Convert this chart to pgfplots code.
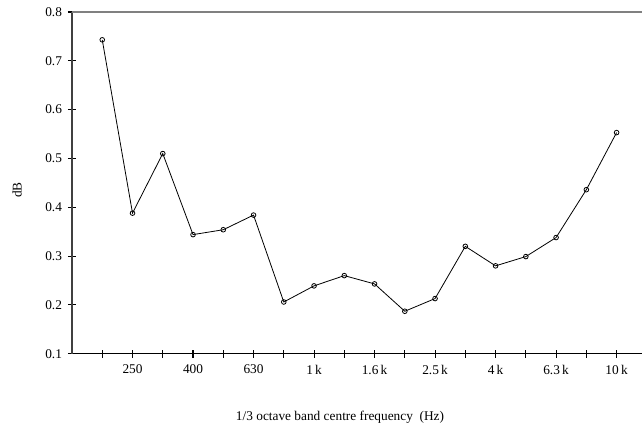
\documentclass[border=0pt]{standalone}
\usepackage{fontspec}
\setmainfont{Liberation Serif}
\usepackage{pgfplots}
\pgfplotsset{compat=1.18}

\begin{document}
\begin{tikzpicture}
\begin{axis}[
  at={(54pt,55.7pt)}, anchor=south west,
  scale only axis, width=427.5pt, height=256.3pt,
  xmin=-1, xmax=17.84, ymin=0.1, ymax=0.8,
  axis x line*=bottom, axis y line*=left,
  axis line style={line width=1pt},
  x axis line style={black, -},
  y axis line style={black!75, -},
  xtick={0,...,17},
  xticklabels={,250,,400,,630,,1\,k,,1.6\,k,,2.5\,k,,4\,k,,6.3\,k,,10\,k},
  ytick={0.1,0.2,...,0.8},
  yticklabel style={/pgf/number format/fixed, /pgf/number format/fixed zerofill,
    /pgf/number format/precision=1, xshift=-1pt},
  /pgf/number format/assume math mode=true,
  tick align=center, major tick length=6pt,
  tick style={black, line width=0.8pt},
  xticklabel style={yshift=-2pt},
  font=\fontsize{10}{12}\selectfont,
  clip=false,
]
% band levels, 200 Hz to 10 kHz in 1/3 octave steps
\addplot[black, line width=0.6pt, mark=o, mark size=1.75pt,
  mark options={line width=0.6pt}] coordinates {
  (0,0.743) (1,0.388) (2,0.510) (3,0.344) (4,0.354) (5,0.384)
  (6,0.206) (7,0.239) (8,0.260) (9,0.243) (10,0.187) (11,0.213)
  (12,0.320) (13,0.280) (14,0.299) (15,0.338) (16,0.436) (17,0.553)
};
\draw[gray, line width=1.2pt] (rel axis cs:0,1) -- (rel axis cs:1,1);
\end{axis}
\node[rotate=90, font=\fontsize{10}{12}\selectfont] at (12.75pt,178.5pt) {dB};
\node[anchor=base, font=\fontsize{10}{12}\selectfont] at (255pt,5.5pt) {1/3 octave band centre frequency~~(Hz)};
\pgfresetboundingbox
\useasboundingbox (0pt,0pt) rectangle (481.5pt,321pt);
\end{tikzpicture}
\end{document}
